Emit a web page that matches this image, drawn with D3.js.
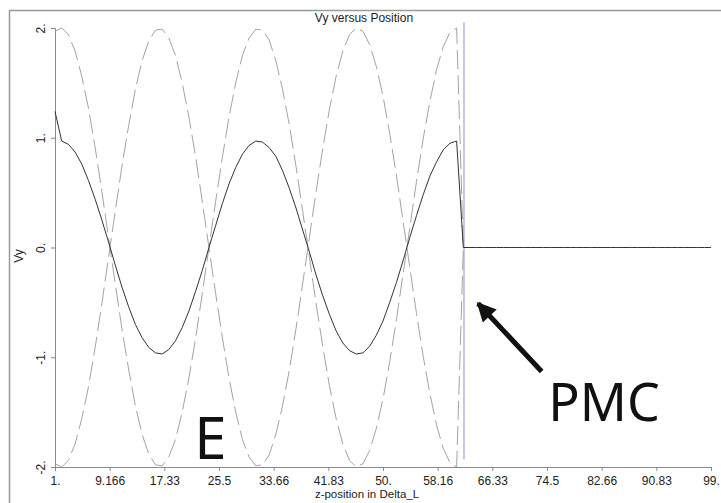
<!DOCTYPE html>
<html>
<head>
<meta charset="utf-8">
<script src="https://cdn.jsdelivr.net/npm/d3@7"></script>
<style>
  html, body { margin: 0; padding: 0; background: #fff; }
  svg { display: block; font-family: "Liberation Sans", Arial, sans-serif; }
  .axis path, .axis line { stroke: #8a8a8a; }
  .axis text { fill: #222; font-size: 12px; }
</style>
</head>
<body>
<div id="chart"></div>
<script>
// Vy versus Position — solid Vy, two dashed envelopes, PMC wall at z ~ 62.

// z grid (cells 1..99)
const zPos = d3.range(1, 100);

// Vy (solid), cells 1..99
const vySolid = [
  1.24, 0.97, 0.94, 0.87, 0.76, 0.61, 0.44, 0.25, 0.05, -0.16,
  -0.36, -0.54, -0.70, -0.82, -0.91, -0.96, -0.97, -0.93, -0.85, -0.73,
  -0.58, -0.40, -0.21, 0.00, 0.20, 0.40, 0.58, 0.73, 0.85, 0.93,
  0.97, 0.96, 0.91, 0.83, 0.70, 0.54, 0.36, 0.16, -0.04, -0.25,
  -0.44, -0.61, -0.76, -0.87, -0.94, -0.97, -0.96, -0.90, -0.80, -0.67,
  -0.50, -0.32, -0.12, 0.09, 0.29, 0.48, 0.65, 0.78, 0.89, 0.95,
  0.97, 0, 0, 0, 0, 0, 0, 0, 0, 0,
  0, 0, 0, 0, 0, 0, 0, 0, 0, 0,
  0, 0, 0, 0, 0, 0, 0, 0, 0, 0,
  0, 0, 0, 0, 0, 0, 0, 0, 0
];

// dashed envelope starting at +2, cells 1..62
const vyDashA = [
  1.97, 2.00, 1.94, 1.79, 1.56, 1.27, 0.91, 0.51, 0.09, -0.33,
  -0.74, -1.11, -1.44, -1.70, -1.88, -1.98, -1.99, -1.91, -1.75, -1.50,
  -1.19, -0.83, -0.42, 0.00, 0.42, 0.82, 1.19, 1.50, 1.75, 1.91,
  1.99, 1.98, 1.89, 1.70, 1.44, 1.12, 0.74, 0.33, -0.09, -0.51,
  -0.90, -1.26, -1.56, -1.79, -1.94, -2.00, -1.97, -1.85, -1.65, -1.38,
  -1.04, -0.66, -0.24, 0.18, 0.60, 0.99, 1.33, 1.62, 1.83, 1.96,
  2.00, 0
];

// dashed envelope starting at -2, cells 1..62
const vyDashB = [
  -1.97, -2.00, -1.94, -1.79, -1.56, -1.27, -0.91, -0.51, -0.09, 0.33,
  0.74, 1.11, 1.44, 1.70, 1.88, 1.98, 1.99, 1.91, 1.75, 1.50,
  1.19, 0.83, 0.42, 0.00, -0.42, -0.82, -1.19, -1.50, -1.75, -1.91,
  -1.99, -1.98, -1.89, -1.70, -1.44, -1.12, -0.74, -0.33, 0.09, 0.51,
  0.90, 1.26, 1.56, 1.79, 1.94, 2.00, 1.97, 1.85, 1.65, 1.38,
  1.04, 0.66, 0.24, -0.18, -0.60, -0.99, -1.33, -1.62, -1.83, -1.96,
  -2.00, 0
];

const xTickValues = [1, 9.1667, 17.333, 25.5, 33.667, 41.833, 50, 58.167, 66.333, 74.5, 82.667, 90.833, 99];
const xTickLabels = ["1.", "9.166", "17.33", "25.5", "33.66", "41.83", "50.", "58.16", "66.33", "74.5", "82.66", "90.83", "99."];
const yTickValues = [-2, -1, 0, 1, 2];
const yTickLabels = ["-2.", "-1.", "0.", "1.", "2."];

// PMC wall marker and annotations (data units)
const pmcLine = { z: 62.1, top: 2.05, bottom: -1.93 };
const arrowFrom = { z: 73.7, v: -1.13 };
const arrowTo = { z: 64.2, v: -0.51 };
const labelE = { text: "E", z: 24.2, v: -1.93 };
const labelPMC = { text: "PMC", z: 74.7, v: -1.58 };

const W = 721, H = 503;
const m = { t: 28, r: 10, b: 36, l: 55 };

const svg = d3.select("#chart").append("svg").attr("width", W).attr("height", H);

// outer frame (top + left edges visible)
svg.append("path").attr("d", `M9.5,${H} L9.5,10.5 L${W},10.5`)
  .attr("fill", "none").attr("stroke", "#9a9a9a").attr("stroke-width", 1.5);

const x = d3.scaleLinear().domain([1, 99]).range([m.l, W - m.r]);
const y = d3.scaleLinear().domain([-2, 2]).range([H - m.b, m.t]);

const xAxis = svg.append("g").attr("class", "axis").attr("transform", `translate(0,${y(-2)})`)
  .call(d3.axisBottom(x).tickValues(xTickValues).tickSizeOuter(0).tickSize(4)
    .tickFormat((d, i) => xTickLabels[i]));
xAxis.selectAll("text").attr("dy", "0.95em");

const yAxis = svg.append("g").attr("class", "axis").attr("transform", `translate(${m.l},0)`)
  .call(d3.axisLeft(y).tickValues(yTickValues).tickSizeOuter(0).tickSize(4)
    .tickFormat((d, i) => yTickLabels[i]));
yAxis.selectAll("text")
  .attr("x", null).attr("dy", null)
  .attr("text-anchor", "middle")
  .attr("transform", "translate(-10,0) rotate(-90)");

// PMC wall
svg.append("line")
  .attr("x1", x(pmcLine.z)).attr("x2", x(pmcLine.z))
  .attr("y1", y(pmcLine.top)).attr("y2", y(pmcLine.bottom))
  .attr("stroke", "#a6acdc").attr("stroke-width", 1.3);

const line = (vals) => d3.line().x((d, i) => x(zPos[i])).y((d) => y(d))(vals);

[vyDashA, vyDashB].forEach((s) => {
  svg.append("path").attr("d", line(s)).attr("fill", "none")
    .attr("stroke", "#a3a3a3").attr("stroke-width", 1).attr("stroke-dasharray", "19,6");
});
svg.append("path").attr("d", line(vySolid)).attr("fill", "none")
  .attr("stroke", "#333").attr("stroke-width", 1);

// title + axis labels
svg.append("text").attr("x", 364).attr("y", 22).attr("text-anchor", "middle")
  .style("font-size", "12px").attr("fill", "#222").text("Vy versus Position");
svg.append("text").attr("x", 367).attr("y", 498).attr("text-anchor", "middle")
  .style("font-size", "11.5px").attr("fill", "#222").text("z-position in Delta_L");
svg.append("text").attr("transform", "translate(23,256) rotate(-90)").attr("text-anchor", "middle")
  .style("font-size", "12px").attr("fill", "#222").text("Vy");

// annotations
const big = (lab, size) => svg.append("text").attr("x", x(lab.z)).attr("y", y(lab.v))
  .style("font-family", "'Noto Sans', 'Open Sans', sans-serif").style("font-size", size + "px")
  .attr("fill", "#111").text(lab.text);
big(labelE, 58).attr("text-anchor", "middle");
big(labelPMC, 52);

svg.append("defs").append("marker").attr("id", "head")
  .attr("viewBox", "0 0 10 10").attr("refX", 9).attr("refY", 5)
  .attr("markerWidth", 4.6).attr("markerHeight", 3.8).attr("markerUnits", "strokeWidth")
  .attr("orient", "auto")
  .append("path").attr("d", "M0,0 L10,5 L0,10 z").attr("fill", "#111");
svg.append("line")
  .attr("x1", x(arrowFrom.z)).attr("y1", y(arrowFrom.v))
  .attr("x2", x(arrowTo.z)).attr("y2", y(arrowTo.v))
  .attr("stroke", "#111").attr("stroke-width", 5).attr("marker-end", "url(#head)");
</script>
</body>
</html>
